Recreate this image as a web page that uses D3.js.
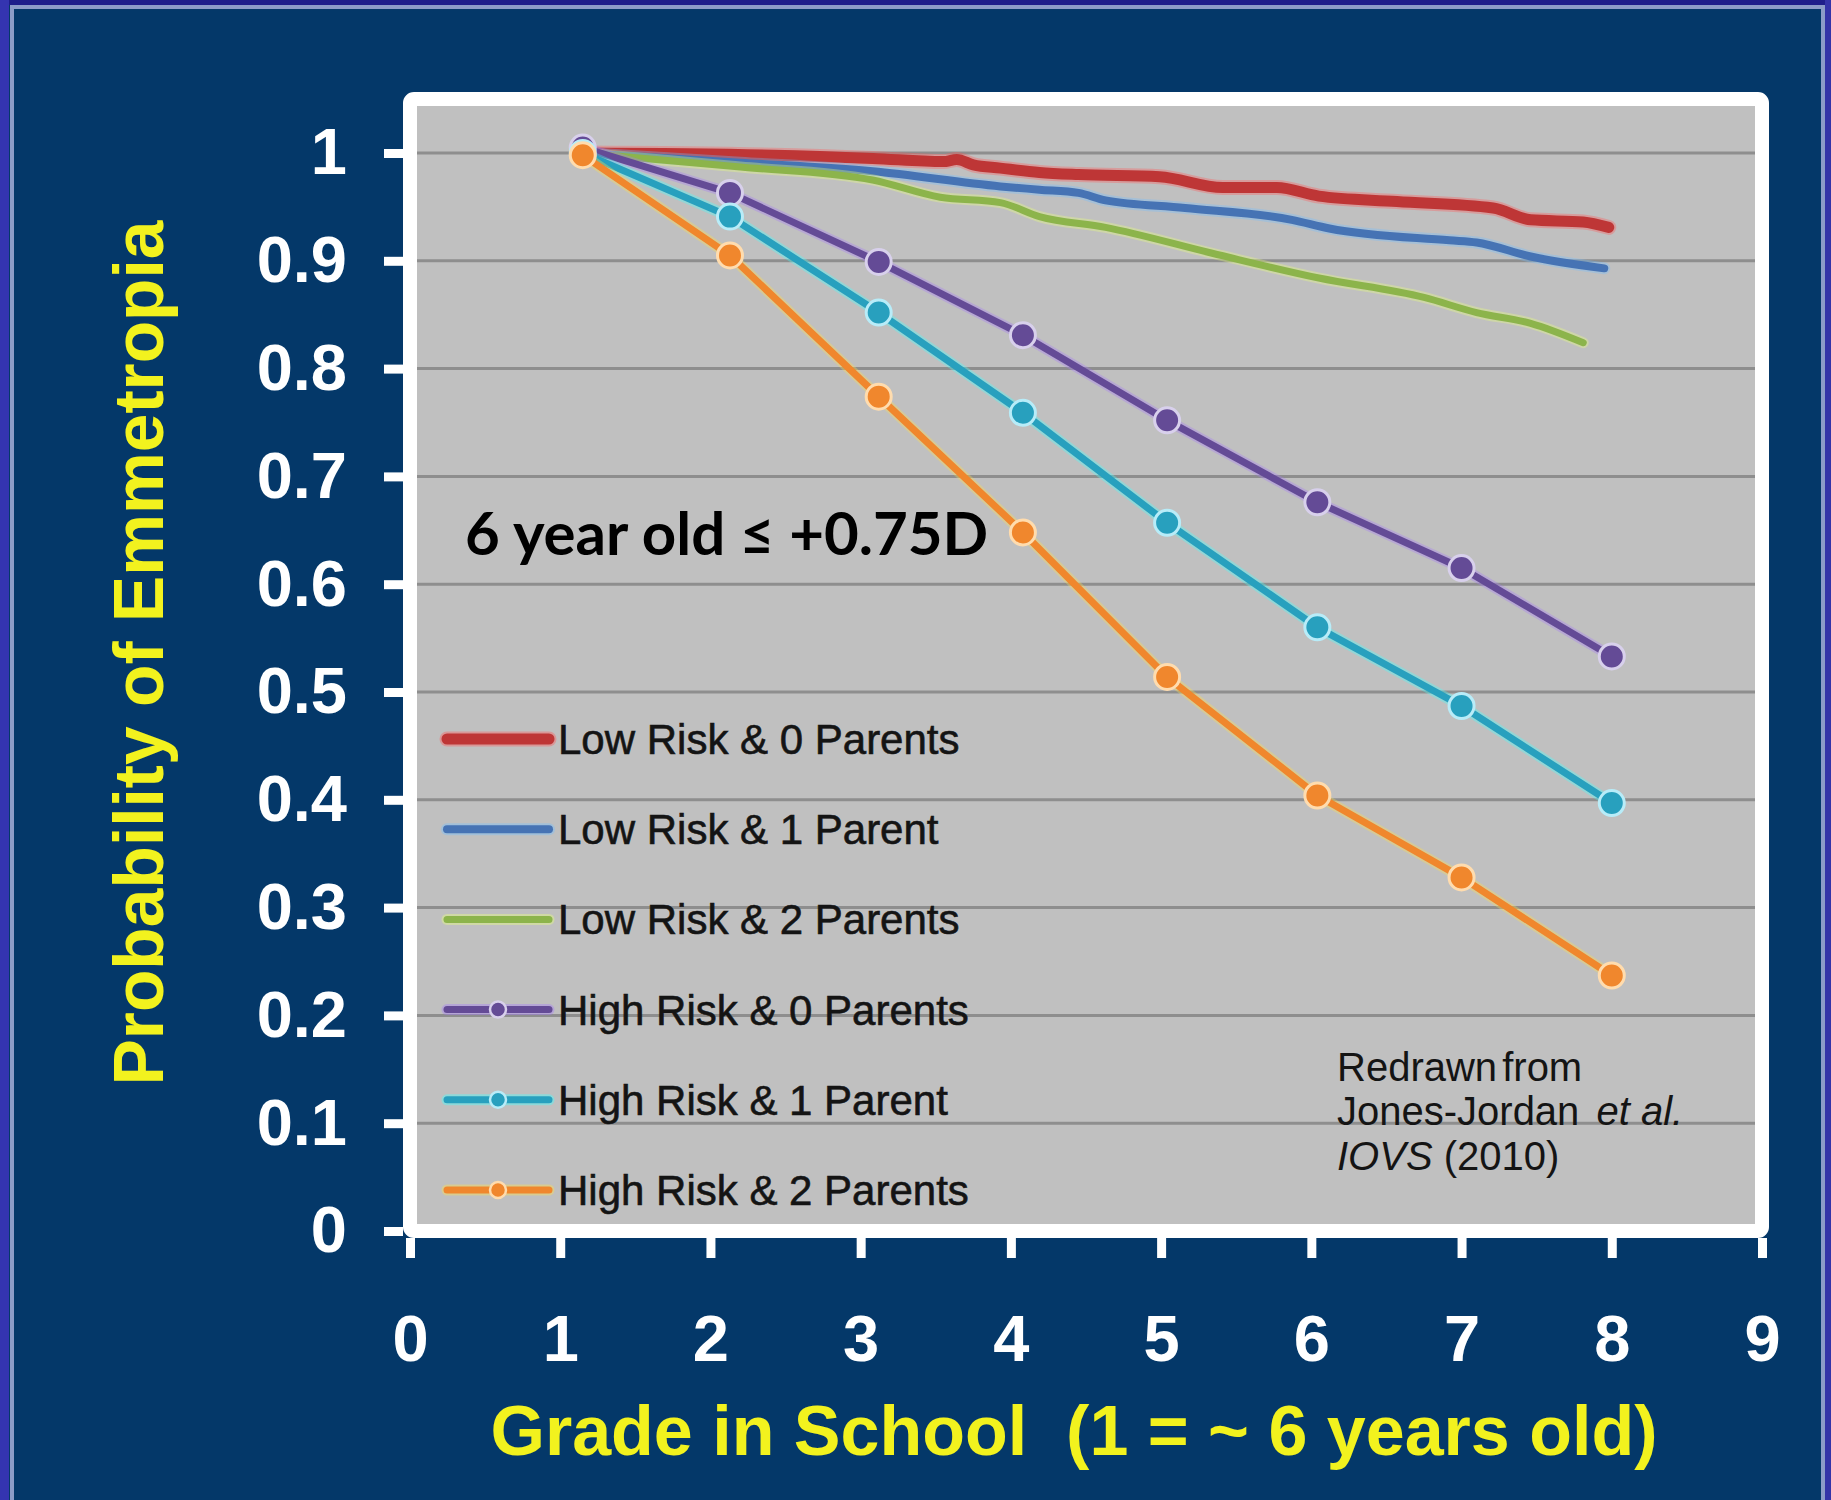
<!DOCTYPE html>
<html>
<head>
<meta charset="utf-8">
<script src="https://cdn.jsdelivr.net/npm/d3@7"></script>
<style>
body{margin:0;background:#043869;}
svg{display:block;}
</style>
</head>
<body>
<svg></svg>
<script>
let width=1831;
let height=1500;

// high risk series, read at each marker
const highGrades=[1.15,2.13,3.12,4.08,5.04,6.04,7.0,8.0];
const highRisk0=[1.005,0.963,0.899,0.831,0.752,0.676,0.615,0.533];
const highRisk1=[1.0,0.941,0.852,0.759,0.657,0.56,0.487,0.397];
const highRisk2=[0.998,0.905,0.774,0.648,0.514,0.404,0.328,0.237];

// low risk series
const lowRisk0Grades=[1.15,2.42,3.08,3.55,3.64,3.75,3.93,4.19,4.45,4.99,5.41,5.77,6.05,6.57,7.21,7.46,7.81,7.98];
const lowRisk0=[1.0,0.998,0.995,0.992,0.994,0.989,0.986,0.982,0.98,0.978,0.968,0.968,0.96,0.955,0.949,0.938,0.936,0.931];
const lowRisk1Grades=[1.15,2.2,3.08,3.93,4.19,4.45,4.63,5.16,5.87,6.12,6.92,7.1,7.46,7.95];
const lowRisk1=[1.0,0.991,0.983,0.969,0.966,0.963,0.956,0.949,0.938,0.93,0.919,0.917,0.904,0.893];
const lowRisk2Grades=[1.15,2.2,3.08,3.53,3.93,4.19,4.63,5.34,6.05,6.75,7.1,7.46,7.81];
const lowRisk2=[1.0,0.987,0.975,0.959,0.954,0.941,0.931,0.907,0.884,0.866,0.852,0.842,0.824];

const seriesNames=['Low Risk & 0 Parents','Low Risk & 1 Parent','Low Risk & 2 Parents',
  'High Risk & 0 Parents','High Risk & 1 Parent','High Risk & 2 Parents'];
const seriesColors=['#be3636','#4673b4','#8cb44b','#644b96','#28a0be','#f0872d'];
const markerStroke=['','','','#d8d0ec','#b8ecf8','#ffdcae'];
const lineWidths=[11,8,7,7,7,7];

const yTicks=[0,0.1,0.2,0.3,0.4,0.5,0.6,0.7,0.8,0.9,1];
const yTickLabels=['0','0.1','0.2','0.3','0.4','0.5','0.6','0.7','0.8','0.9','1'];
const xTicks=[0,1,2,3,4,5,6,7,8,9];

const svg=d3.select('svg').attr('width',width).attr('height',height);

let xScale=d3.scaleLinear().domain([0,9]).range([410,1762]);
let yScale=d3.scaleLinear().domain([0,1.05]).range([1231,99.1]);

let drawSlide=()=>{
  svg.append('rect').attr('width',width).attr('height',height).attr('fill','#043869');
  // slide frame
  svg.append('rect').attr('x',0).attr('y',0).attr('width',width).attr('height',5).attr('fill','#1e1e8a');
  svg.append('rect').attr('x',0).attr('y',0).attr('width',9).attr('height',height).attr('fill','#3434b0');
  svg.append('rect').attr('x',1825).attr('y',0).attr('width',6).attr('height',height).attr('fill','#3434a8');
  svg.append('rect').attr('x',10).attr('y',5).attr('width',1815).attr('height',4).attr('fill','#8c9cc8');
  svg.append('rect').attr('x',10).attr('y',5).attr('width',4).attr('height',height).attr('fill','#8c9cc8');
  svg.append('rect').attr('x',1821).attr('y',5).attr('width',4).attr('height',height).attr('fill','#8c9cc8');
}

let drawPlot=()=>{
  svg.append('rect')
    .attr('x',xScale(0)).attr('y',yScale(1.05))
    .attr('width',xScale(9)-xScale(0)).attr('height',yScale(0)-yScale(1.05))
    .attr('fill','#c0c0c0');

  svg.append('g').selectAll('line')
    .data(yTicks.filter(d=>d>0))
    .enter().append('line')
    .attr('x1',xScale(0)).attr('x2',xScale(9))
    .attr('y1',d=>yScale(d)).attr('y2',d=>yScale(d))
    .attr('stroke','#8e8e8e').attr('stroke-width',3);
}

let drawSeries=()=>{
  let lowData=[
    d3.zip(lowRisk0Grades,lowRisk0),
    d3.zip(lowRisk1Grades,lowRisk1),
    d3.zip(lowRisk2Grades,lowRisk2)
  ];
  let highData=[highRisk0,highRisk1,highRisk2].map(s=>d3.zip(highGrades,s));
  let all=lowData.concat(highData);

  let curved=d3.line()
    .x(d=>xScale(d[0]))
    .y(d=>yScale(d[1]))
    .curve(d3.curveMonotoneX);
  let straight=d3.line()
    .x(d=>xScale(d[0]))
    .y(d=>yScale(d[1]));

  all.forEach((pts,i)=>{
    let g=svg.append('g');
    let line=i<3?curved:straight;
    // soft halo round each line
    g.append('path').datum(pts)
      .attr('d',line).attr('fill','none')
      .attr('stroke',d3.color(seriesColors[i]).brighter(1.4))
      .attr('stroke-opacity',0.35)
      .attr('stroke-width',lineWidths[i]+4)
      .attr('stroke-linejoin','round').attr('stroke-linecap','round');
    g.append('path').datum(pts)
      .attr('d',line)
      .attr('fill','none')
      .attr('stroke',seriesColors[i])
      .attr('stroke-width',lineWidths[i])
      .attr('stroke-linejoin','round').attr('stroke-linecap','round');
    if(i>=3){
      g.selectAll('circle').data(pts).enter().append('circle')
        .attr('cx',d=>xScale(d[0])).attr('cy',d=>yScale(d[1]))
        .attr('r',12.5)
        .attr('fill',seriesColors[i])
        .attr('stroke',markerStroke[i]).attr('stroke-width',3);
    }
  });
}

let drawLegend=()=>{
  let top=739, gap=90.2;
  let lg=svg.append('g');
  seriesNames.forEach((name,i)=>{
    let yy=top+i*gap;
    lg.append('line')
      .attr('x1',447).attr('x2',549).attr('y1',yy).attr('y2',yy)
      .attr('stroke',d3.color(seriesColors[i]).brighter(1.4)).attr('stroke-opacity',0.4)
      .attr('stroke-width',lineWidths[i]+4).attr('stroke-linecap','round');
    lg.append('line')
      .attr('x1',447).attr('x2',549).attr('y1',yy).attr('y2',yy)
      .attr('stroke',seriesColors[i]).attr('stroke-width',lineWidths[i])
      .attr('stroke-linecap','round');
    if(i>=3){
      lg.append('circle').attr('cx',498).attr('cy',yy).attr('r',8)
        .attr('fill',seriesColors[i]).attr('stroke',markerStroke[i]).attr('stroke-width',2.5);
    }
    lg.append('text')
      .attr('x',558).attr('y',yy+15)
      .attr('font-family','"Liberation Sans", Arial, sans-serif')
      .attr('font-size',42)
      .attr('stroke','#141414').attr('stroke-width',0.6)
      .attr('fill','#141414')
      .text(name);
  });
}

let drawFrameAndAxes=()=>{
  svg.append('rect')
    .attr('x',xScale(0)).attr('y',yScale(1.05))
    .attr('width',xScale(9)-xScale(0)).attr('height',yScale(0)-yScale(1.05))
    .attr('rx',4)
    .attr('fill','none').attr('stroke','#ffffff').attr('stroke-width',14);

  let yAxis=d3.axisLeft(yScale)
    .tickValues(yTicks)
    .tickFormat((d,i)=>yTickLabels[i])
    .tickSizeInner(19).tickSizeOuter(0).tickPadding(37);
  let ya=svg.append('g')
    .attr('transform','translate('+(xScale(0)-7)+',0)')
    .call(yAxis);
  ya.select('.domain').remove();
  ya.selectAll('line').attr('stroke','#ffffff').attr('stroke-width',9);
  ya.selectAll('text')
    .attr('fill','#ffffff')
    .attr('font-family','"Liberation Sans", Arial, sans-serif')
    .attr('font-weight','bold').attr('font-size',65);

  let xAxis=d3.axisBottom(xScale)
    .tickValues(xTicks)
    .tickFormat(d3.format('d'))
    .tickSizeInner(20).tickSizeOuter(0).tickPadding(57);
  let xa=svg.append('g')
    .attr('transform','translate(0,'+(yScale(0)+7)+')')
    .call(xAxis);
  xa.select('.domain').remove();
  xa.selectAll('line').attr('stroke','#ffffff').attr('stroke-width',9);
  xa.selectAll('text')
    .attr('fill','#ffffff')
    .attr('font-family','"Liberation Sans", Arial, sans-serif')
    .attr('font-weight','bold').attr('font-size',65);
}

let drawTexts=()=>{
  svg.append('text')
    .attr('transform','translate(163,653) rotate(-90)')
    .attr('text-anchor','middle')
    .attr('font-family','"Liberation Sans", Arial, sans-serif')
    .attr('font-weight','bold').attr('font-size',69.5)
    .attr('fill','#f2f21e')
    .text('Probability of Emmetropia');

  svg.append('text')
    .attr('x',1074).attr('y',1455)
    .attr('text-anchor','middle')
    .attr('xml:space','preserve')
    .style('white-space','pre')
    .attr('font-family','"Liberation Sans", Arial, sans-serif')
    .attr('font-weight','bold').attr('font-size',70)
    .attr('fill','#f2f21e')
    .text('Grade in School  (1 = ~ 6 years old)');

  svg.append('text')
    .attr('x',465).attr('y',555)
    .attr('font-family','Lato, "Open Sans", sans-serif')
    .attr('font-weight','bold').attr('font-size',60)
    .attr('fill','#000000')
    .text('6 year old \u2264 +0.75D');

  let cite=svg.append('text')
    .attr('font-family','"Liberation Sans", Arial, sans-serif')
    .attr('font-size',40)
    .attr('fill','#141414');
  cite.append('tspan').attr('x',1337).attr('y',1081).attr('word-spacing',-6).text('Redrawn from');
  let l2=cite.append('tspan').attr('x',1337).attr('y',1125);
  l2.append('tspan').text('Jones-Jordan ');
  l2.append('tspan').attr('font-style','italic').attr('dx',6).text('et al.');
  let l3=cite.append('tspan').attr('x',1337).attr('y',1170);
  l3.append('tspan').attr('font-style','italic').text('IOVS');
  l3.append('tspan').text(' (2010)');
}

drawSlide();
drawPlot();
drawSeries();
drawLegend();
drawFrameAndAxes();
drawTexts();
</script>
</body>
</html>
